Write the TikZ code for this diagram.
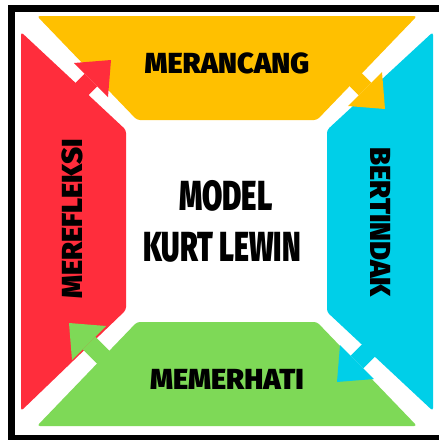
\documentclass[tikz,border=0pt]{standalone}
\usepackage{fontspec}
\newfontfamily\labfont{Fira Sans}[UprightFont=* Black]
\newfontfamily\titfont{Fira Sans}[UprightFont=* Black]
\definecolor{cred}{HTML}{FF2D3C}
\definecolor{cyel}{HTML}{FFC000}
\definecolor{ccya}{HTML}{00CFE8}
\definecolor{cgrn}{HTML}{7ED957}
\tikzset{
  panel/.style={rounded corners=3pt},
  shaft/.style={line width=18pt},
  lab/.style={font=\labfont\fontsize{29}{30}\selectfont, text=black, inner sep=0pt},
  tit/.style={font=\titfont\fontsize{42}{44}\selectfont, text=black, inner sep=0pt},
}
\begin{document}
\begin{tikzpicture}[x=1pt,y=-1pt]
\useasboundingbox (0,0) rectangle (439,440);
\clip (0,0) rectangle (439,440);
\fill[white] (0,0) rectangle (439,440);
% frame
\draw[black, line width=7pt] (11.5,8.5) rectangle (460,438.5);
% panels
\fill[cyel, panel] (37,16) -- (417,16) -- (317,120) -- (137,120) -- cycle;
\fill[ccya, panel] (433,32) -- (433,411) -- (327,312) -- (327,130) -- cycle;
\fill[cgrn, panel] (137,322) -- (317,322) -- (417,426) -- (37,426) -- cycle;
\fill[cred, panel] (21,32) -- (126,130) -- (126,310) -- (21,411) -- cycle;
% arrows
\coordinate (rS) at (60,111); \coordinate (rM) at (91,80); \coordinate (rT) at (111,60);
\coordinate (rB1) at (74,63); \coordinate (rB2) at (108,97);
\draw[cred, shaft] (rS) -- (rM);
\fill[cred] (rB1) -- (rT) -- (rB2) -- cycle;
\coordinate (yS) at (337,61); \coordinate (yM) at (365,89); \coordinate (yT) at (385,109);
\coordinate (yB1) at (382,72); \coordinate (yB2) at (348,106);
\draw[cyel, shaft] (yS) -- (yM);
\fill[cyel] (yB1) -- (yT) -- (yB2) -- cycle;
\coordinate (cS) at (385,334); \coordinate (cM) at (357,362); \coordinate (cT) at (337,382);
\coordinate (cB1) at (340,345); \coordinate (cB2) at (374,379);
\draw[ccya, shaft] (cS) -- (cM);
\fill[ccya] (cB1) -- (cT) -- (cB2) -- cycle;
\coordinate (gS) at (117,371); \coordinate (gM) at (89,343); \coordinate (gT) at (69,323);
\coordinate (gB1) at (106,326); \coordinate (gB2) at (72,360);
\draw[cgrn, shaft] (gS) -- (gM);
\fill[cgrn] (gB1) -- (gT) -- (gB2) -- cycle;
% labels
\node[lab] (merancang) at (227,63) {MERANCANG};
\node[lab] (memerhati) at (227,379) {MEMERHATI};
\node[lab, rotate=90] (merefleksi) at (72,219) {MEREFLEKSI};
\node[lab, rotate=-90] (bertindak) at (381,222) {BERTINDAK};
\node[tit] (model) at (226,196) {\scalebox{0.7}[1]{MODEL}};
\node[tit] (kurt) at (222,247) {\scalebox{0.68}[1]{KURT LEWIN}};
\end{tikzpicture}
\end{document}
